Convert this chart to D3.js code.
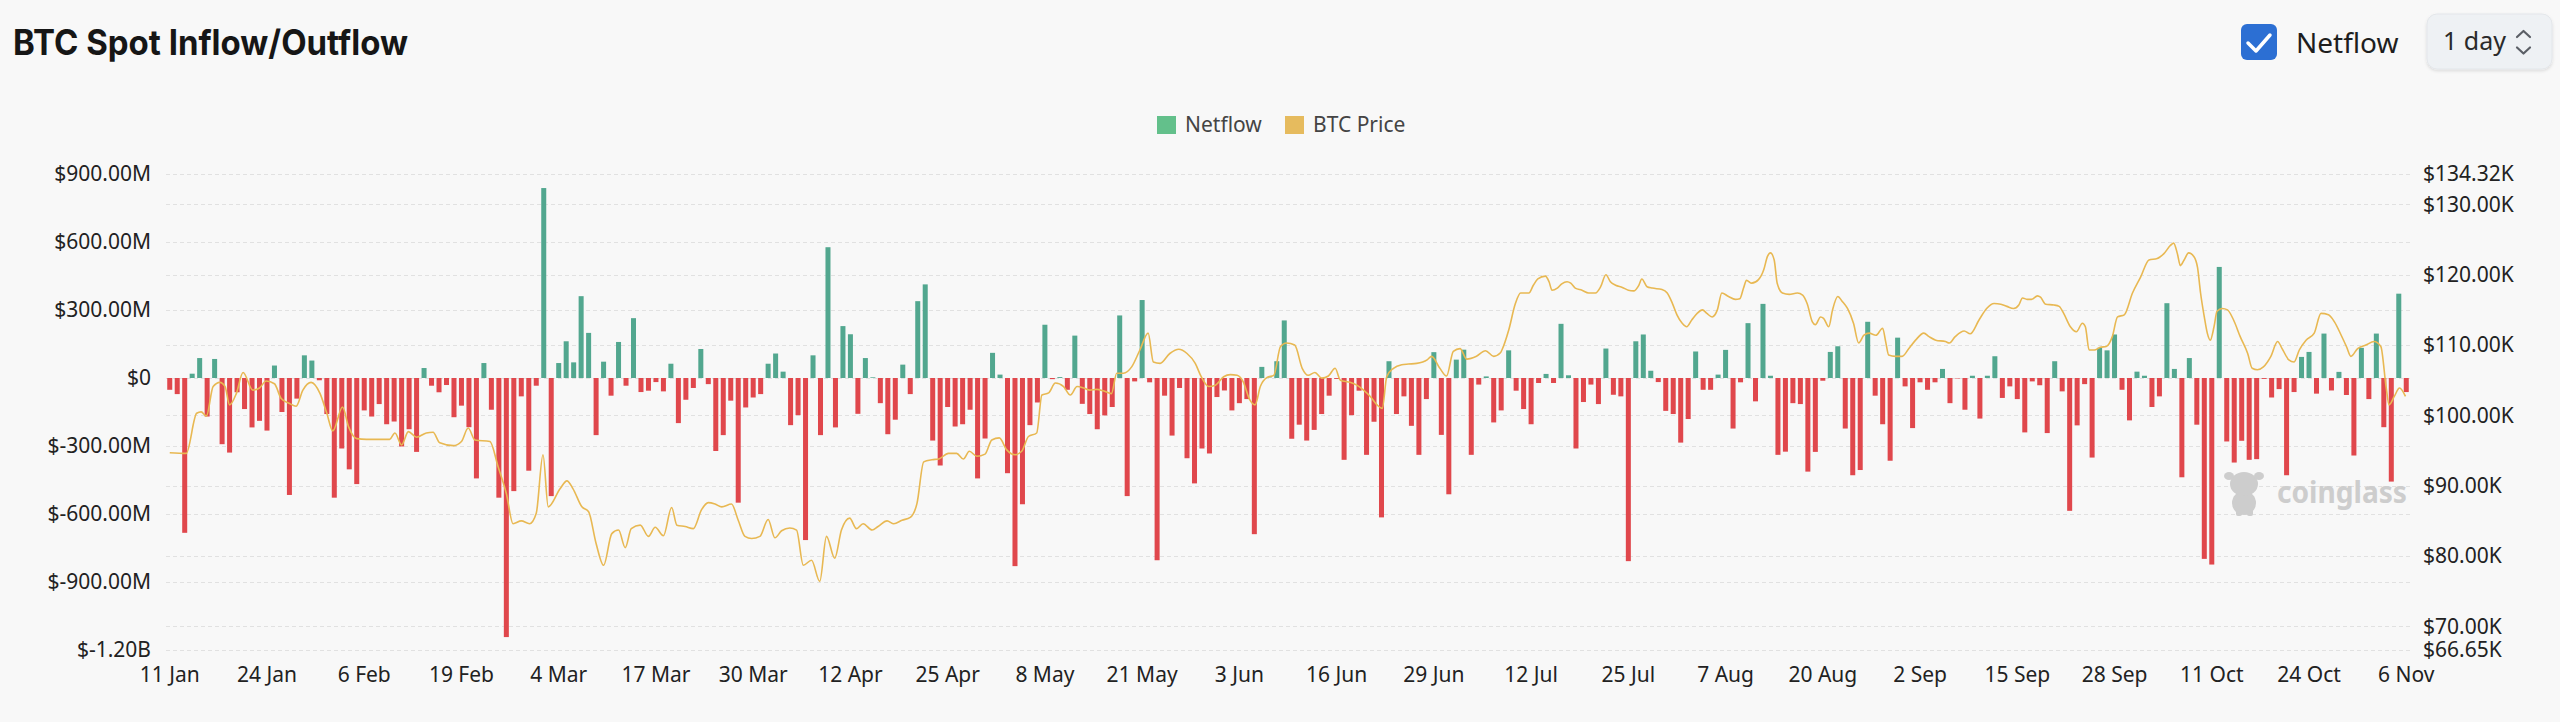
<!DOCTYPE html>
<html>
<head>
<meta charset="utf-8">
<script src="https://cdn.jsdelivr.net/npm/d3@7"></script>
<style>
  html, body { margin: 0; padding: 0; background: #f8f8f8; }
  svg { display: block; }
</style>
</head>
<body>
<div id="chart"></div>
<script>
"use strict";

// daily netflow in $M, one value per day starting 11 Jan
const netflow = [
  -52, -71, -683, 19, 88, -170, 84, -292, -329, -63,
  -137, -218, -189, -232, 55, -150, -516, -91, 100, 77,
  -10, -159, -528, -311, -403, -468, -143, -170, -115, -204,
  -192, -302, -226, -326, 44, -34, -63, -31, -173, -122,
  -217, -443, 66, -140, -528, -1143, -499, -81, -409, -34,
  838, -521, 66, 162, 69, 361, 199, -252, 72, -78,
  159, -34, 264, -62, -56, -18, -59, 63, -199, -96,
  -44, 128, -27, -322, -252, -100, -550, -130, -86, -71,
  63, 108, 28, -208, -164, -715, 100, -252, 577, -218,
  229, 193, -158, 88, 3, -111, -248, -184, 59, -71,
  339, 413, -276, -386, -128, -214, -204, -140, -443, -267,
  111, 15, -420, -830, -557, -208, -108, 235, -5, 4,
  -52, 187, -114, -159, -226, -165, -128, 276, -521, -15,
  344, -19, -804, -78, -254, -44, -354, -465, -311, -333,
  -84, -55, -143, -111, -93, -689, 49, 2, 74, 254,
  -268, -206, -276, -229, -159, -78, -4, -361, -164, -56,
  -339, -193, -615, 74, -159, -81, -211, -339, -93, 114,
  -251, -513, 81, 125, -339, -29, 7, -196, -143, 122,
  -56, -137, -204, -22, 18, -22, 239, 12, -311, -106,
  -29, -115, 130, -74, -81, -808, 162, 192, 32, -18,
  -145, -159, -285, -181, 117, -52, -52, 15, 124, -223,
  -19, 242, -103, 327, 10, -339, -325, -111, -115, -413,
  -326, -12, 115, 140, -223, -429, -406, 248, -78, -204,
  -365, 178, -37, -221, -19, -52, -19, 40, -111, -2,
  -140, 10, -179, 10, 96, -88, -37, -93, -240, -15,
  -32, -243, 74, -59, -586, -209, -27, -351, 133, 122,
  192, -52, -187, 28, 10, -128, -81, 330, 40, -438,
  88, -206, -798, -823, 490, -280, -373, -277, -361, -358,
  -4, -86, -49, -429, -62, 93, 115, -69, 196, -55,
  27, -75, -342, 133, -93, 196, -217, -457, 372, -62
];

// BTC price: day offset from 11 Jan, price in $K
const priceDay = [
  0, 2.2, 3.6, 4.2, 4.9, 5.8, 6.7, 7.4, 8.0, 8.9, 9.8, 11.1, 12.0, 12.9, 14.0, 14.9, 16.0, 16.9, 17.8, 18.9,
  20.1, 21.0, 21.8, 23.1, 23.9, 25.0, 26.3, 29.4, 30.1, 31.0, 31.9, 33.0, 34.3, 35.2, 36.1, 37.9, 39.0, 39.9, 40.8, 42.8,
  43.9, 45.0, 45.9, 47.0, 48.1, 49.0, 49.9, 50.6, 52.2, 53.1, 53.9, 55.1, 56.0, 57.0, 58.0,
  59.1, 60.0, 60.9, 61.7, 62.9, 64.0, 64.9, 66.0, 67.1, 67.8, 68.9, 70.0, 71.1, 72.0, 72.9, 73.8, 75.1, 76.0, 76.9, 77.8,
  78.9, 80.0, 80.9, 81.8, 82.9, 83.8, 84.7, 85.8, 86.9, 87.8, 88.9, 89.8, 90.9, 91.8, 92.7, 93.9, 94.7, 95.9, 96.8, 97.9,
  99.0, 99.9, 100.8, 101.9, 102.8, 104.1, 105.2, 106.1, 106.9, 107.9, 109.0, 109.9, 110.9, 111.9, 113.0, 113.9, 114.8, 115.9,
  116.6, 117.5, 118.4,
  119.5, 120.4, 121.3, 122.2, 123.0, 123.9, 124.8, 125.9, 126.6, 127.5, 128.6, 129.7, 130.8, 131.5, 132.4, 133.7, 134.9,
  136.0, 137.1, 137.9, 138.9, 139.8, 140.9, 141.8, 142.7, 143.5, 144.4, 145.1, 145.8, 146.7, 147.6, 148.5, 149.3, 150.4,
  151.4, 152.2, 153.1, 154.0, 154.9, 155.8, 156.5, 157.8, 158.7, 159.6, 160.5, 161.4, 162.1, 162.7, 163.6, 164.7, 165.6,
  166.7, 168.1, 168.7, 169.8, 170.7, 171.6, 172.5, 173.4, 174.7, 175.9, 177.0, 177.9,
  178.1, 179.0, 179.9, 180.6, 181.7, 182.3, 182.9, 183.9, 184.4, 184.8, 185.5, 186.1, 186.8, 187.3, 187.9, 188.8, 189.7,
  190.6, 191.3, 192.0, 192.6, 193.3, 194.2, 195.0, 195.7, 196.4, 196.8, 197.5, 198.2, 199.5, 200.2, 200.9, 201.5, 202.2,
  202.8, 203.5, 204.2, 204.9, 205.5, 206.2, 206.9, 207.5, 208.4, 209.3, 209.9, 210.4, 210.8, 211.5, 212.4, 213.1, 213.6,
  214.0, 214.5, 214.9, 215.6, 216.5, 217.6, 218.3, 218.9, 219.6, 220.0, 220.7, 221.1, 221.8, 222.3, 223.0, 223.6, 224.3,
  225.1, 225.8, 226.5, 227.2, 228.1, 229.0, 229.4, 229.8, 230.7, 231.6, 232.5, 233.4, 234.5, 235.2, 236.1, 237.4,
  237.9, 238.7, 239.9, 240.7, 241.9, 242.9, 243.9, 244.8, 245.6, 246.5, 247.2, 247.7, 248.3, 248.9, 249.7, 250.1, 250.8,
  251.9, 252.6, 253.2, 254.1, 254.9, 255.7, 256.1, 256.6, 257.3, 258.1, 258.9, 259.7, 260.4, 261.3, 262.4, 263.5, 264.6,
  265.7, 266.6, 267.5, 267.9, 268.4, 268.8, 269.3, 269.9, 270.6, 271.1, 271.5, 272.0, 272.4, 272.8, 273.3, 273.7, 274.4,
  275.1, 275.9, 276.8, 277.8, 278.4, 279.1, 279.9, 280.9, 281.8, 282.4, 283.3, 284.0, 284.7, 285.6, 286.7, 287.6, 288.6,
  289.4, 290.3, 291.0, 291.6, 292.5, 293.6, 294.7, 295.6, 296.3, 296.7, 297.4, 298.1, 298.9
];
const priceValue = [
  94.7, 94.6, 100.3, 100.5, 99.9, 104.1, 104.7, 104.1, 101.5, 103.1, 106.1, 103.6, 103.9, 104.9, 104.5, 102.4, 101.7, 101.3, 103.6, 104.7,
  103.1, 100.3, 97.8, 101.2, 98.4, 96.7, 96.6, 96.6, 97.5, 95.8, 97.7, 96.9, 97.5, 97.6, 96.1, 95.7, 96.3, 98.2, 96.5, 96.3,
  92.7, 88.9, 84.6, 85.0, 84.6, 86.1, 94.4, 87.0, 89.6, 90.7, 89.6, 87.0, 86.3, 81.8, 78.7,
  83.2, 83.7, 81.2, 83.9, 84.4, 82.8, 84.1, 82.9, 86.9, 84.4, 84.2, 83.9, 86.6, 87.6, 87.4, 87.0, 87.4, 85.1, 82.8, 82.5,
  82.8, 85.2, 82.6, 83.6, 84.0, 83.7, 78.7, 79.4, 76.4, 82.8, 79.7, 83.7, 85.4, 83.9, 84.6, 83.7, 84.2, 85.0, 84.6, 85.1,
  85.5, 87.5, 93.4, 93.7, 93.8, 94.6, 94.6, 93.8, 94.9, 94.2, 94.5, 96.5, 96.8, 95.1, 94.4, 94.9, 97.0, 97.5,
  102.9, 103.2, 104.6,
  104.1, 102.9, 104.1, 103.9, 103.6, 103.7, 103.5, 103.1, 106.0, 106.0, 106.9, 109.3, 111.7, 107.6, 107.4, 108.8, 109.4,
  108.8, 107.4, 105.5, 104.1, 104.3, 105.5, 105.8, 105.7, 104.8, 102.2, 101.5, 104.1, 105.4, 105.7, 109.8, 110.3, 110.0,
  106.7, 105.7, 106.1, 105.3, 105.6, 106.7, 105.0, 104.7, 104.3, 103.6, 102.7, 101.5, 101.0, 105.5, 106.7, 107.2, 107.3,
  107.4, 107.9, 108.4, 106.7, 105.6, 109.1, 109.5, 108.0, 108.4, 109.2, 108.4, 108.9,
  109.3, 112.1, 115.9, 117.4, 117.4, 118.5, 119.4, 119.8, 119.0, 117.8, 118.1, 118.7, 119.0, 118.8, 118.1, 117.8, 117.4,
  117.4, 118.3, 120.0, 119.0, 118.5, 118.2, 117.8, 117.7, 118.5, 119.4, 118.3, 118.1, 117.9, 117.4, 115.9, 114.3, 113.1,
  112.6, 113.6, 114.5, 115.0, 114.5, 114.0, 115.0, 117.4, 116.9, 116.5, 116.6, 118.1, 119.2, 118.8, 119.3, 120.7, 122.6,
  123.1, 122.1, 118.8, 117.4, 117.2, 117.4, 117.1, 115.9, 113.3, 112.9, 114.0, 113.8, 112.6, 115.0, 116.9, 116.2, 115.2,
  113.1, 110.3, 111.4, 111.7, 111.4, 112.4, 110.5, 108.6, 108.4, 108.4, 109.5, 110.7, 111.7, 111.2, 110.7, 110.5,
  110.3, 111.2, 112.0, 111.6, 113.6, 115.2, 115.9, 115.8, 115.5, 115.2, 115.7, 116.7, 116.5, 116.5, 117.0, 116.8, 115.8,
  115.7, 115.5, 114.5, 112.6, 111.9, 113.1, 112.6, 109.3, 109.3, 109.7, 109.8, 111.2, 114.0, 114.3, 117.4, 119.7, 122.1,
  122.3, 123.0, 124.2, 124.5, 123.0, 121.3, 122.1, 123.1, 122.6, 121.0, 117.4, 114.0, 111.7, 110.7, 112.6, 114.8, 115.2,
  115.0, 113.6, 111.2, 108.8, 106.7, 106.5, 106.9, 108.4, 110.5, 109.5, 107.9, 107.6, 109.3, 110.7, 111.7, 114.5, 114.3,
  113.3, 111.4, 109.8, 108.4, 109.5, 110.0, 110.5, 109.8, 104.1, 101.5, 102.7, 103.9, 102.7
];

const leftTicks = [900, 600, 300, 0, -300, -600, -900, -1200];
const rightTicks = [66.65, 70, 80, 90, 100, 110, 120, 130, 134.32];
const rightGrid = [70, 80, 90, 100, 110, 120, 130];
const xTickLabels = ["11 Jan", "24 Jan", "6 Feb", "19 Feb", "4 Mar", "17 Mar", "30 Mar", "12 Apr",
  "25 Apr", "8 May", "21 May", "3 Jun", "16 Jun", "29 Jun", "12 Jul", "25 Jul", "7 Aug",
  "20 Aug", "2 Sep", "15 Sep", "28 Sep", "11 Oct", "24 Oct", "6 Nov"];
const tickEvery = 13;

const width = 2560;
const height = 722;
const margin = { top: 174, right: 150, bottom: 72, left: 166 };
const font = "'Noto Sans', 'Open Sans', sans-serif";

const svg = d3.select("#chart")
  .append("svg")
  .attr("width", width)
  .attr("height", height)
  .style("font-family", font);

svg.append("rect")
  .attr("width", width)
  .attr("height", height)
  .attr("fill", "#f8f8f8");

const defs = svg.append("defs");
defs.append("filter")
  .attr("id", "shadow")
  .attr("x", "-20%").attr("y", "-20%")
  .attr("width", "140%").attr("height", "160%")
  .append("feDropShadow")
  .attr("dx", 0).attr("dy", 1.5)
  .attr("stdDeviation", 1.5)
  .attr("flood-color", "#000")
  .attr("flood-opacity", 0.12);

// header
svg.append("text")
  .attr("x", 13)
  .attr("y", 55)
  .attr("textLength", 395)
  .attr("lengthAdjust", "spacingAndGlyphs")
  .style("font-family", "Inter, 'Noto Sans', sans-serif")
  .style("font-size", "35px")
  .style("font-weight", 700)
  .attr("fill", "#161616")
  .text("BTC Spot Inflow/Outflow");

svg.append("rect")
  .attr("x", 2241).attr("y", 24)
  .attr("width", 36).attr("height", 36)
  .attr("rx", 6)
  .attr("fill", "#2c6fd3");

svg.append("path")
  .attr("d", "M2248,43 L2256,51 L2270,35")
  .attr("fill", "none")
  .attr("stroke", "#fff")
  .attr("stroke-width", 3.5)
  .attr("stroke-linecap", "round")
  .attr("stroke-linejoin", "round");

svg.append("text")
  .attr("x", 2296).attr("y", 53)
  .style("font-size", "28px")
  .attr("fill", "#1e1e1e")
  .text("Netflow");

svg.append("rect")
  .attr("x", 2427).attr("y", 14)
  .attr("width", 125).attr("height", 55)
  .attr("rx", 10)
  .attr("fill", "#eef1f4")
  .attr("stroke", "#e3e6ea")
  .attr("filter", "url(#shadow)");

svg.append("text")
  .attr("x", 2443).attr("y", 50)
  .style("font-size", "25px")
  .attr("fill", "#2a2a2a")
  .text("1 day");

svg.append("path")
  .attr("d", "M2517,37 L2523.5,31 L2530,37 M2517,47.5 L2523.5,53.5 L2530,47.5")
  .attr("fill", "none")
  .attr("stroke", "#5b5f66")
  .attr("stroke-width", 2.2)
  .attr("stroke-linecap", "round")
  .attr("stroke-linejoin", "round");

// legend
const legendItems = [
  { label: "Netflow", color: "#63c08b", x: 1157 },
  { label: "BTC Price", color: "#e6bb5e", x: 1285 }
];
const legend = svg.append("g")
  .selectAll("g")
  .data(legendItems)
  .join("g")
  .attr("transform", d => `translate(${d.x},116)`);
legend.append("rect")
  .attr("width", 19).attr("height", 18)
  .attr("fill", d => d.color);
legend.append("text")
  .attr("x", 28).attr("y", 16)
  .style("font-size", "21px")
  .attr("fill", "#444")
  .text(d => d.label);

// scales
const x = d3.scaleBand()
  .domain(d3.range(netflow.length))
  .range([margin.left, width - margin.right])
  .paddingInner(0.33)
  .paddingOuter(0.165);

const xDay = d3.scaleLinear()
  .domain([0, netflow.length - 1])
  .range([x(0) + x.bandwidth() / 2, x(netflow.length - 1) + x.bandwidth() / 2]);

const yLeft = d3.scaleLinear()
  .domain([-1200, 900])
  .range([height - margin.bottom, margin.top]);

const yRight = d3.scaleLinear()
  .domain([66.65, 134.32])
  .range([height - margin.bottom, margin.top]);

// grid lines
const grid = svg.append("g")
  .attr("stroke", "#e1e1e1")
  .attr("stroke-width", 1)
  .attr("stroke-dasharray", "4,3");

grid.selectAll(".gl")
  .data(leftTicks)
  .join("line")
  .attr("class", "gl")
  .attr("x1", margin.left).attr("x2", width - margin.right)
  .attr("y1", d => Math.round(yLeft(d)) + 0.5)
  .attr("y2", d => Math.round(yLeft(d)) + 0.5);

grid.selectAll(".gr")
  .data(rightGrid)
  .join("line")
  .attr("class", "gr")
  .attr("x1", margin.left).attr("x2", width - margin.right)
  .attr("y1", d => Math.round(yRight(d)) + 0.5)
  .attr("y2", d => Math.round(yRight(d)) + 0.5);

// watermark
const mark = svg.append("g").attr("fill", "#cdcdcd");
mark.append("ellipse").attr("cx", 2244).attr("cy", 503).attr("rx", 12).attr("ry", 12);
mark.append("ellipse").attr("cx", 2244).attr("cy", 484).attr("rx", 14).attr("ry", 12);
mark.append("ellipse").attr("cx", 2229).attr("cy", 476).attr("rx", 5).attr("ry", 4);
mark.append("ellipse").attr("cx", 2259).attr("cy", 476).attr("rx", 5).attr("ry", 4);
mark.append("rect").attr("x", 2236).attr("y", 508).attr("width", 6).attr("height", 8).attr("rx", 2);
mark.append("rect").attr("x", 2247).attr("y", 508).attr("width", 6).attr("height", 8).attr("rx", 2);
mark.append("text")
  .attr("x", 2277).attr("y", 503)
  .attr("textLength", 130)
  .attr("lengthAdjust", "spacingAndGlyphs")
  .style("font-size", "30px")
  .style("font-weight", 700)
  .text("coinglass");

// bars
svg.append("g")
  .selectAll("rect")
  .data(netflow)
  .join("rect")
  .attr("x", (d, i) => x(i))
  .attr("width", x.bandwidth())
  .attr("y", d => yLeft(Math.max(0, d)))
  .attr("height", d => Math.abs(yLeft(d) - yLeft(0)))
  .attr("fill", d => d >= 0 ? "#52a78f" : "#e0474c");

// price line
const priceLine = d3.line()
  .x(d => xDay(d[0]))
  .y(d => yRight(d[1]))
  .curve(d3.curveMonotoneX);

svg.append("path")
  .datum(priceDay.map((d, i) => [d, priceValue[i]]))
  .attr("d", priceLine)
  .attr("fill", "none")
  .attr("stroke", "#e8b852")
  .attr("stroke-width", 1.6);

// axes
const fmtLeft = v => {
  if (v === 0) return "$0";
  if (Math.abs(v) >= 1000) return "$" + (v / 1000).toFixed(2) + "B";
  return "$" + v.toFixed(2) + "M";
};

const styleAxis = g => {
  g.select(".domain").remove();
  g.selectAll(".tick line").remove();
  g.selectAll("text")
    .style("font-family", font)
    .style("font-size", "21px")
    .attr("fill", "#222");
};

svg.append("g")
  .attr("transform", `translate(${margin.left},0)`)
  .call(d3.axisLeft(yLeft).tickValues(leftTicks).tickFormat(fmtLeft).tickSize(0).tickPadding(15))
  .call(styleAxis);

svg.append("g")
  .attr("transform", `translate(${width - margin.right},0)`)
  .call(d3.axisRight(yRight).tickValues(rightTicks).tickFormat(v => "$" + v.toFixed(2) + "K").tickSize(0).tickPadding(13))
  .call(styleAxis);

svg.append("g")
  .attr("transform", `translate(0,${height - margin.bottom})`)
  .call(d3.axisBottom(x)
    .tickValues(xTickLabels.map((_, i) => i * tickEvery))
    .tickFormat((d, i) => xTickLabels[i])
    .tickSize(0)
    .tickPadding(17))
  .call(styleAxis);
</script>
</body>
</html>
